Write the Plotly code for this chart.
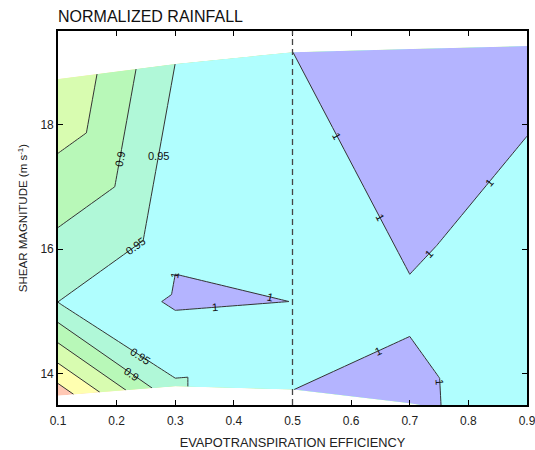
import math
import plotly.graph_objects as go

# ---------------- data ----------------
# evapotranspiration efficiency of each column of simulations
EFF = [0.1, 0.3, 0.5, 0.7, 0.9]
# shear magnitude (m s-1) of the low / mid / high shear run in each column
SHEAR_LOW = [13.65, 13.80, 13.75, 13.53, 13.20]
SHEAR_MID = [15.15, 15.16, 15.16, 15.10, 15.10]
SHEAR_HIGH = [18.73, 18.97, 19.16, 19.21, 19.26]
# normalized rainfall of each run (the 0.5 column is the control, just under 1)
RAIN_LOW = [0.720, 0.944, 0.9998, 1.0154, 0.958]
RAIN_MID = [0.9502, 1.0065, 0.9998, 0.9928, 0.955]
RAIN_HIGH = [0.800, 0.9502, 0.9998, 1.0523, 1.024]

CONTOUR_START, CONTOUR_END, CONTOUR_STEP = 0.75, 1.0, 0.05
BAND_COLORS = ["#ffc8b4", "#ffffb0", "#d8fcb0", "#b8f8b8", "#b0f8d8", "#b0fefe", "#b4b4ff"]
CONTROL_EFF = 0.5
X_RANGE = [0.1, 0.9]
Y_RANGE = [13.5, 19.5]
X_TICKS = [0.1, 0.2, 0.3, 0.4, 0.5, 0.6, 0.7, 0.8, 0.9]
Y_TICKS = [14, 16, 18]

# contour label hints: (level, near eff, near shear, fixed angle or None)
LABELS = [
    (0.9, 0.205, 17.45, None), (0.95, 0.268, 17.5, 0.0), (0.95, 0.232, 16.05, None),
    (0.95, 0.24, 14.29, None), (0.9, 0.223, 13.97, None),
    (1.0, 0.30, 15.58, None), (1.0, 0.462, 15.25, None), (1.0, 0.368, 15.06, None),
    (1.0, 0.574, 17.81, None), (1.0, 0.649, 16.51, None), (1.0, 0.729, 15.95, None),
    (1.0, 0.832, 17.09, None), (1.0, 0.646, 14.37, None), (1.0, 0.75, 13.87, None),
]

# triangulation of the scattered runs, expressed as carpet columns:
# each entry says which EFF column the (low, mid, high) node is taken from
MESH_COLUMNS = [(0, 0, 0), (1, 0, 0), (1, 1, 0), (1, 1, 1), (1, 2, 1), (2, 2, 2),
                (2, 3, 2), (3, 3, 3), (3, 3, 4), (3, 4, 4), (4, 4, 4)]

rows = [(SHEAR_LOW, RAIN_LOW), (SHEAR_MID, RAIN_MID), (SHEAR_HIGH, RAIN_HIGH)]
xs, ys, zs = [], [], []
for r, (sh, rn) in enumerate(rows):
    xs.append([EFF[c[r]] for c in MESH_COLUMNS])
    ys.append([sh[c[r]] for c in MESH_COLUMNS])
    zs.append([rn[c[r]] for c in MESH_COLUMNS])
a = list(range(len(MESH_COLUMNS)))
b = list(range(len(rows)))

n = len(BAND_COLORS) - 1
colorscale = [[i / n, col] for i, col in enumerate(BAND_COLORS)]

hidden_axis = dict(smoothing=0, showgrid=False, showline=False, showticklabels="none",
                   startline=False, endline=False, minorgridcount=0)

FONT = "Liberation Sans, Arial, sans-serif"
W, H = 535, 450
M = dict(l=58, r=8, t=31, b=45)
PX_X = (W - M["l"] - M["r"]) / (X_RANGE[1] - X_RANGE[0])
PX_Y = (H - M["t"] - M["b"]) / (Y_RANGE[1] - Y_RANGE[0])

fig = go.Figure()
fig.add_trace(go.Carpet(a=a, b=b, x=xs, y=ys, carpet="mesh",
                        aaxis=hidden_axis, baxis=hidden_axis))
fig.add_trace(go.Contourcarpet(
    carpet="mesh", z=zs, autocontour=False,
    contours=dict(start=CONTOUR_START, end=CONTOUR_END, size=CONTOUR_STEP,
                  coloring="fill", showlabels=False),
    line=dict(color="#333", width=1, smoothing=0),
    colorscale=colorscale, showscale=False))


# contour segments of one level inside the carpet cells (for placing labels)
def level_segments(level):
    segs = []
    for r in range(len(rows) - 1):
        for k in range(len(MESH_COLUMNS) - 1):
            corners = [(r, k), (r, k + 1), (r + 1, k + 1), (r + 1, k)]
            pts = []
            for i in range(4):
                (r0, k0), (r1, k1) = corners[i], corners[(i + 1) % 4]
                z0, z1 = zs[r0][k0], zs[r1][k1]
                if (z0 - level) * (z1 - level) < 0:
                    t = (level - z0) / (z1 - z0)
                    pts.append((xs[r0][k0] + t * (xs[r1][k1] - xs[r0][k0]),
                                ys[r0][k0] + t * (ys[r1][k1] - ys[r0][k0])))
            if len(pts) == 2:
                segs.append(pts)
    return segs


for level, hx, hy, fixed in LABELS:
    best = None
    for (x0, y0), (x1, y1) in level_segments(level):
        ax, ay = x0 * PX_X, y0 * PX_Y
        bx, by = x1 * PX_X, y1 * PX_Y
        hxp, hyp = hx * PX_X, hy * PX_Y
        L2 = (bx - ax) ** 2 + (by - ay) ** 2
        if L2 == 0:
            continue
        t = max(0.0, min(1.0, ((hxp - ax) * (bx - ax) + (hyp - ay) * (by - ay)) / L2))
        px, py = ax + t * (bx - ax), ay + t * (by - ay)
        d = (px - hxp) ** 2 + (py - hyp) ** 2
        if best is None or d < best[0]:
            ang = math.degrees(math.atan2(by - ay, bx - ax))
            if ang > 90:
                ang -= 180
            if ang <= -90:
                ang += 180
            best = (d, px / PX_X, py / PX_Y, -ang)
    if best is None:
        continue
    _, lx, ly, la = best
    fig.add_annotation(x=lx, y=ly, text=f"{level:g}", showarrow=False,
                       textangle=la if fixed is None else fixed,
                       font=dict(family=FONT, size=11, color="#111"))

fig.add_shape(type="line", xref="x", yref="paper", x0=CONTROL_EFF, x1=CONTROL_EFF,
              y0=0, y1=1, line=dict(color="#444", width=1.3, dash="6px,4px"))

axis_common = dict(showline=True, linecolor="black", linewidth=1.6, mirror="ticks",
                   ticks="inside", ticklen=5, tickcolor="black", showgrid=False,
                   zeroline=False, tickfont=dict(family=FONT, size=12, color="#222"))
fig.update_xaxes(range=[X_RANGE[0] - 1e-6, X_RANGE[1] + 1e-6], tickvals=X_TICKS,
                 ticktext=[f"{v:.1f}" for v in X_TICKS], ticklabelstandoff=4,
                 ticklabeloverflow="allow",
                 title=dict(text="EVAPOTRANSPIRATION EFFICIENCY", standoff=18,
                            font=dict(family=FONT, size=12.8, color="#222")), **axis_common)
fig.update_yaxes(range=Y_RANGE, tickvals=Y_TICKS,
                 title=dict(text="SHEAR MAGNITUDE (m s<sup>-1</sup>)", standoff=10,
                            font=dict(family=FONT, size=11.5, color="#222")), **axis_common)

fig.update_layout(
    width=W, height=H, plot_bgcolor="white", paper_bgcolor="white",
    margin=dict(**M, autoexpand=False),
    title=dict(text="NORMALIZED RAINFALL", x=M["l"] / W, xanchor="left", y=1 - 16 / H,
               yanchor="middle", font=dict(family=FONT, size=16, color="#111")),
    showlegend=False, font=dict(family=FONT))

fig.write_html("out.html", config={"displayModeBar": False},
               post_script="document.body.style.margin='0px';")
